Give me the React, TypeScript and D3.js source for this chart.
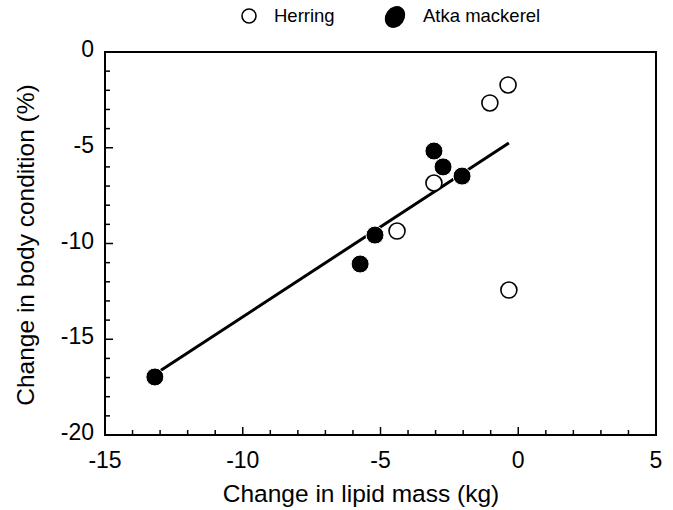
import * as d3 from 'd3';

// values
const herringLipid = [-0.37, -1.03, -3.06, -4.4, -0.34];
const herringCondition = [-1.72, -2.66, -6.84, -9.35, -12.43];
const atkaLipid = [-13.19, -5.74, -5.2, -3.06, -2.73, -2.04];
const atkaCondition = [-16.97, -11.07, -9.56, -5.17, -6.0, -6.48];
const fitLipid = [-13.19, -0.34];
const fitCondition = [-16.83, -4.75];
const xTicks = [-15, -10, -5, 0, 5];
const yTicks = [0, -5, -10, -15, -20];

const W = 673;
const H = 510;
const font = 'Liberation Sans, Arial, Helvetica, sans-serif';

export default function App() {
  const x = d3.scaleLinear().domain([-15, 5]).range([105, 656]);
  const y = d3.scaleLinear().domain([-20, 0]).range([435, 52]);

  const xMinor = d3.range(-15, 6, 1);
  const yMinor = d3.range(-20, 1, 1);

  const fit = d3.line<number>()
    .x((d) => x(d))
    .y((_, i) => y(fitCondition[i]));

  return (
    <svg width={W} height={H} style={{ position: 'absolute', left: 0, top: 0, background: '#fff' }}
      fontFamily={font}>
      {/* ticks, pointing inward */}
      {xMinor.map((t) => (
        <line key={'xt' + t} x1={x(t)} x2={x(t)} y1={y(-20)} y2={y(-20) - (t % 5 === 0 ? 8 : 5)}
          stroke="#000" strokeWidth={1.5} />
      ))}
      {yMinor.map((t) => (
        <line key={'yt' + t} x1={x(-15)} x2={x(-15) + (t % 5 === 0 ? 8 : 5)} y1={y(t)} y2={y(t)}
          stroke="#000" strokeWidth={1.5} />
      ))}
      <rect x={x(-15)} y={y(0)} width={x(5) - x(-15)} height={y(-20) - y(0)}
        fill="none" stroke="#000" strokeWidth={2} />

      {xTicks.map((t) => (
        <text key={'xl' + t} x={x(t)} y={468} textAnchor="middle" fontSize={23}>{t}</text>
      ))}
      {yTicks.map((t) => (
        <text key={'yl' + t} x={94} y={y(t) - 3} dy="0.35em" textAnchor="end" fontSize={23}>{t}</text>
      ))}

      <text x={361} y={502} textAnchor="middle" fontSize={24.5}>Change in lipid mass (kg)</text>
      <text transform={`translate(34,245) rotate(-90)`} textAnchor="middle" fontSize={24.5}>
        Change in body condition (%)
      </text>

      <path d={fit(fitLipid) || ''} fill="none" stroke="#000" strokeWidth={3} />

      {herringLipid.map((d, i) => (
        <circle key={'h' + i} cx={x(d)} cy={y(herringCondition[i])} r={8}
          fill="#fff" stroke="#000" strokeWidth={1.6} />
      ))}
      {atkaLipid.map((d, i) => (
        <circle key={'a' + i} cx={x(d)} cy={y(atkaCondition[i])} r={9}
          fill="#000" stroke="#fff" strokeWidth={1} />
      ))}

      {/* legend */}
      <circle cx={249} cy={16} r={7} fill="#fff" stroke="#000" strokeWidth={1.6} />
      <text x={274} y={22} fontSize={18.5}>Herring</text>
      <ellipse cx={395} cy={17} rx={9.5} ry={11.5} transform="rotate(35,395,17)" fill="#000" />
      <text x={423} y={22} fontSize={18.5}>Atka mackerel</text>
    </svg>
  );
}
